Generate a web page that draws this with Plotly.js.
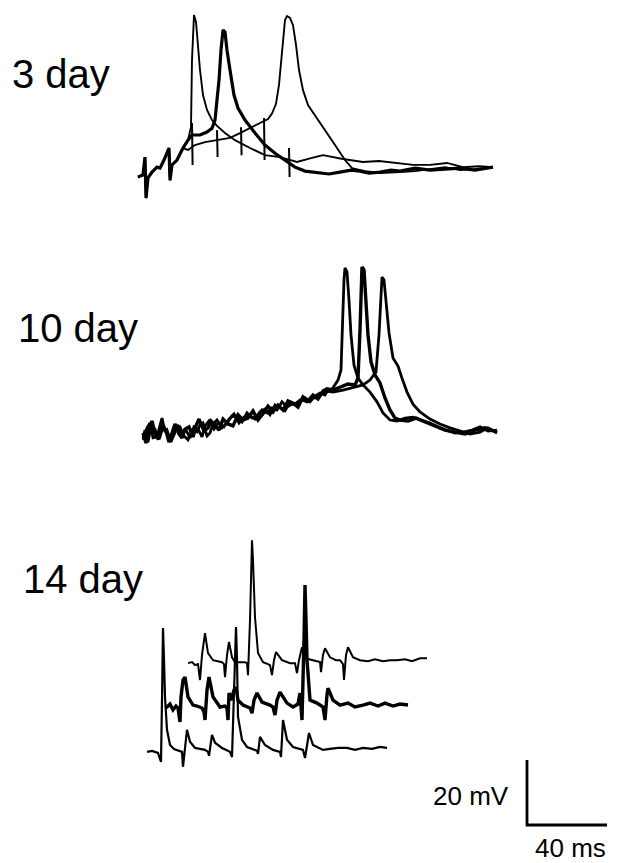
<!DOCTYPE html>
<html>
<head>
<meta charset="utf-8">
<script src="https://cdn.plot.ly/plotly-3.0.1.min.js"></script>
<style>html,body{margin:0;padding:0;background:#fff;}#chart{width:620px;height:863px;}</style>
</head>
<body>
<div id="chart"></div>
<script>
// ---------- DATA (time in ms from trace start, voltage in mV from baseline) ----------
const panelLabels = ["3 day", "10 day", "14 day"];
const scaleBarMs = 40;
const scaleBarMv = 20;
const scaleLabels = ["20 mV", "40 ms"];

// 3 day: common onset with stimulus artefacts
const d3_start_t = [-2.5, 0, 1, 1.5, 2.5, 4.5, 7, 8.5, 10.5, 13, 13.5, 14.5, 17, 20];
const d3_start_v = [-1.5, -0.9, 4.6, -8, -1.8, 0, 1.5, 1.2, 3.7, 7.4, -2.5, 2.2, 3.7, 7.4];
// 3 day, trace A (earliest spike)
const d3_A_t = [22.5, 24, 24.5, 25.5, 26.5, 27.5, 28.5, 30, 32, 34.5, 37, 41, 46, 53.5, 61, 68.5, 77, 84, 90, 100, 110, 118, 127, 135, 143.5, 152, 160, 168, 175];
const d3_A_v = [9.8, 13.8, 34.5, 48.3, 46.2, 37.5, 31.4, 23.7, 19.1, 16, 14.2, 12, 9.8, 7.4, 5.2, 4.6, 3.1, 4.3, 5.2, 4, 3.1, 3.4, 2.8, 2.2, 2.2, 2.8, 1.5, 1.8, 1.5];
// 3 day, trace B (thick, middle spike)
const d3_B_t = [22.5, 24.5, 28.5, 32, 34.5, 36, 37, 38, 39, 40, 41, 42, 43.5, 45.5, 47.5, 51, 56, 61, 66, 71, 76, 81, 88.5, 93, 98.5, 104, 108.5, 113, 118.5, 124, 128.5, 136, 143.5, 150, 158.5, 166, 175];
const d3_B_v = [9.8, 11.4, 11.4, 12.3, 13.5, 16, 22.2, 28.3, 37.5, 43.7, 43.1, 37.5, 31.4, 23.7, 19.7, 16, 12, 8.3, 5.8, 3.7, 1.5, 0.3, -0.3, -0.6, 0, 0.6, 0.3, -0.3, 0, 0.6, 0.3, 1.2, 0.6, 0.9, 1.2, 0.6, 1.5];
// 3 day, trace C (latest spike)
const d3_C_t = [22.5, 26, 31, 37, 43.5, 48.5, 53.5, 57, 60, 62.5, 64.5, 66.5, 68, 69.5, 71, 72, 73.5, 75, 76.5, 78, 80, 82.5, 86, 91, 96, 101, 104.5, 111, 118.5, 128.5, 136, 143.5, 151, 158.5, 166, 175];
const d3_C_v = [6.8, 8.3, 9.2, 9.8, 10.5, 12, 13.5, 14.5, 15.4, 16.3, 18, 21, 26.8, 36, 46.8, 48, 47.4, 45.2, 39.1, 31.4, 25.2, 20.6, 17.5, 12.9, 8.3, 3.7, 1.2, 0.3, -0.3, 0, 0.3, 0.9, 1.5, 0.6, 0.9, 1.5];
// 3 day stimulus artefacts (time, top, bottom)
const d3_art_t = [24.5, 37, 49, 60.5, 73];
const d3_art_top = [15.1, 12.9, 13.8, 16.6, 7.4];
const d3_art_bot = [2.2, 4.6, 5.2, 3.7, -1.5];

// 10 day: noisy ramps then spikes
const d10_1_t = [0, 2, 3.5, 5, 7, 8.5, 9.5, 11, 12, 13.5, 15, 17, 18.5, 20.5, 22.5, 24.5, 27, 28.5, 30, 32, 33.5, 35, 37, 39.5, 42, 44.5, 47, 49.5, 52, 54.5, 57, 59.5, 62, 64.5, 67, 69.5, 72, 74.5, 77, 79.5, 82, 84.5, 87, 89.5, 92,
  95, 97.5, 99, 99.5, 100.5, 101, 102, 103, 104, 105.5, 107.5, 110, 113.5, 117, 120, 123.5, 127, 131, 135, 139, 143.5, 148.5, 152, 156, 160, 164.5, 168.5, 172.5, 177];
const d10_1_v = [-1.5, 2.2, 3.7, -0.9, -0.6, 3.1, 5.2, 0.9, 1.5, -1.5, -0.6, 2.2, 2.5, -0.3, -1.5, 1.5, 0.9, 3.1, 3.7, -0.3, 0.6, 3.4, 4.6, 2.2, 3.7, 5.8, 5.5, 4, 6.8, 5.2, 5.5, 7.7, 6.8, 8.3, 7.7, 10.2, 8.6, 9.5, 9.2, 10.8, 10.2, 11.4, 11.4, 12.6, 13.2,
  14.5, 16.9, 20, 32.3, 47.7, 51.4, 50.2, 41.5, 30.8, 21.5, 17.5, 15.4, 13.2, 10.2, 6.8, 4.6, 4.3, 5.2, 5.5, 4.6, 3.7, 2.2, 1.5, 0.6, 0.9, 1.5, 2.5, 1.2, 1.5];
const d10_2_t = [0, 1.5, 3, 4.5, 6, 8, 10, 11.5, 13, 14.5, 16, 18, 19.5, 21, 23, 25, 26.5, 28, 30.5, 32.5, 34, 36, 38, 40, 42.5, 45, 47.5, 50, 52.5, 55, 57.5, 60, 62.5, 65, 67.5, 70, 72.5, 75, 77.5, 80, 82.5, 85, 87.5, 90, 92,
  95, 98.5, 102.5, 106, 107.5, 108.5, 109, 109.5, 110.5, 111.5, 112.5, 114, 116, 118.5, 121, 123.5, 126, 128.5, 132.5, 136.5, 141, 146, 151, 156, 161, 166, 171, 177];
const d10_2_v = [0.6, -2.5, 1.8, 4.3, 0.3, -1.2, 2.8, 1.2, -2.2, 0.9, 3.4, 0.3, -0.9, 1.8, 2.5, -0.6, 2.8, 4.9, 1.2, 2.2, 4.3, 3.1, 1.5, 4.9, 3.4, 2.8, 6.2, 4.6, 5.2, 7.4, 4.6, 6.5, 8.9, 7.1, 9.2, 7.7, 10.5, 9.8, 8.6, 11.7, 10.5, 12.3, 11.1, 13.5, 14.2,
  13.8, 14.8, 15.7, 15.4, 17.5, 32.3, 46.2, 51.7, 50.8, 41.5, 30.8, 22.5, 18.5, 16, 11.4, 7.7, 5.2, 4.6, 4.3, 5.2, 4, 2.8, 1.5, 0.9, 0.3, 1.5, 2.2, 0.9];
const d10_3_t = [0, 1, 2.5, 4, 6, 7.5, 9, 10.5, 12.5, 14, 16, 17.5, 19, 21.5, 23.5, 25.5, 27.5, 29.5, 31, 33, 35.5, 37.5, 40.5, 43, 45.5, 48, 50.5, 53, 56, 58.5, 61, 63.5, 66, 68.5, 71, 73.5, 76, 78.5, 81, 83.5, 86, 88.5, 91, 92,
  95, 100, 105, 110, 113.5, 116.5, 118, 119, 119.5, 120.5, 121.5, 123, 125, 127.5, 129.5, 132, 135, 138.5, 143.5, 148.5, 153.5, 158.5, 163.5, 168.5, 172.5, 177];
const d10_3_v = [-0.9, 1.5, -2.2, 2.8, 1.8, -1.5, 3.7, 2.5, 0.3, -2.2, 1.2, 3.1, 0.6, 1.5, -0.9, 2.5, 1.8, -0.6, 2.8, 4.3, 1.8, 3.7, 2.5, 4.9, 6.5, 3.7, 5.5, 6.2, 4.9, 7.1, 8, 6.2, 9.2, 8.3, 7.4, 10.2, 9.5, 10.8, 11.4, 10.2, 12, 12.9, 12.3, 13.5,
  13.2, 13.8, 14.5, 15.4, 16.9, 19.4, 30.8, 44.6, 48.6, 47.7, 41.5, 31.4, 23.7, 21.2, 17.5, 13.2, 9.5, 7.1, 4.9, 3.4, 2.2, 1.2, 0.3, 0.9, 2.2, 0.6];

// 14 day: three stacked traces
const d14_bot_t = [0, 2.5, 5.5, 7, 7.5, 8, 8.5, 9, 10, 11.5, 13.5, 15, 17.5, 18, 19, 20, 21.5, 24, 26.5, 29, 30.5, 31, 32.5, 34, 37.5, 41.5, 42.5, 43.5, 44.5, 45, 45.5, 47.5, 50, 54, 55, 55.5, 56.5, 59, 63, 66.5, 67, 68, 70, 73, 78, 79, 81, 83, 88, 91.5, 95.5, 100, 104, 108, 112.5, 116.5, 120];
const d14_bot_v = [-0.6, -0.3, -0.9, -3.7, 15.4, 37.5, 27.7, 16.3, 6.2, 1.5, 0.3, 0, -0.6, -5.2, 1.5, 6.2, 2.5, 0.6, 0.3, 0, -0.6, -1.8, 4.6, 2.2, 0.6, -0.6, -2.2, 15.4, 37.8, 27.7, 10.2, 3.1, 0.9, 0, -0.3, -1.2, 4, 1.5, 0, -0.6, -2.2, 9.2, 3.1, 0.9, 0, -2.5, 5.2, 1.5, 0, 0.3, 0.6, 0.6, 0, 0.6, 0.3, 0.9, 0.6];
const d14_mid_t = [0, 1, 2.5, 4, 5.5, 6.5, 7.5, 8, 9, 10, 11.5, 14, 16, 18.5, 19.5, 20, 21, 22, 24, 27.5, 30, 31, 31.5, 32, 33, 34.5, 35.5, 36.5, 39, 41, 42.5, 43.5, 44.5, 46, 48.5, 52.5, 54, 55, 56, 57.5, 59, 61, 64, 66.5, 67.5, 68.5, 69.5, 70, 70.5, 71, 72.5, 76, 79, 80, 81, 81.5, 84, 87.5, 91.5, 95, 99, 102.5, 106.5, 110, 114, 117.5, 121.5];
const d14_mid_v = [-0.6, -0.3, 0.6, -1.2, 0, -0.6, -4.9, 2.8, 8, 8.9, 2.8, 0.3, 0, -0.6, -1.8, -4.3, 4.9, 8.9, 2.8, -0.3, 0, -0.6, -4.3, 4, 1.8, 4.9, 5.8, 1.8, 0.3, -0.3, -0.6, -2.2, 1.8, 4, 1.2, 0.3, -0.3, -2.8, 1.8, 4.3, 2.8, 0.9, -0.3, 0.6, 4, -4.3, 20.3, 37.2, 26.5, 14.2, 1.8, 0.9, -0.3, -4.3, 3.4, 5.5, 1.8, 0.3, 0.9, -0.3, 0.3, 0.9, 0, 0.9, 0, 0.6, 0.3];
const d14_top_t = [0, 2, 3.5, 5, 6, 7, 8.5, 10, 12.5, 15, 17, 18, 18.5, 19.5, 20.5, 22, 23.5, 26, 28.5, 29.5, 30, 31, 32, 32.5, 33.5, 35, 37.5, 40, 41, 42, 43, 44, 47, 51, 53.5, 54.5, 55.5, 57, 58.5, 62.5, 66, 66.5, 67.5, 68.5, 71, 74, 76, 77.5, 78, 79, 80, 82.5, 86, 90, 93.5, 97.5, 101, 104.5, 108.5, 112, 116, 119.5];
const d14_top_v = [-0.3, 0, -0.9, -0.6, -5.5, 2.2, 8.9, 2.8, 0.6, 0.3, 0, -0.6, -4.6, 2.2, 6.2, 1.5, 0, 0, 0, -0.3, -4, 12.9, 37.5, 31.4, 13.8, 2.8, 0, -0.6, -0.9, -4, 0.6, 3.1, 0.6, -0.3, -0.3, -3.4, 0.6, 4.6, 1.2, 0.6, 0, -3.1, 2.2, 4.3, 1.5, 0.6, 0.6, -0.6, -5.5, 2.2, 4.6, 1.5, 0.6, 0.3, 0.9, 0.3, 0.6, 0.6, 0.9, 0.3, 1.2, 1.2];

// ---------- LAYOUT / STYLE ----------
const W = 620, H = 863;
const pxPerMs = 2, pxPerMv = 3.25;
const xMax = W / pxPerMs, yMax = H / pxPerMv;
const place = {
  d3: {t0: 71.5, v0: 212.6},
  d10: {t0: 71.5, v0: 131.7},
  d14bot: {t0: 73.5, v0: 34.8},
  d14mid: {t0: 82.5, v0: 48.3},
  d14top: {t0: 94, v0: 61.8},
  bar: {t0: 263.5, v0: 11.7}
};

function shift(arr, d) { return arr.map(a => (a === null ? null : a + d)); }
function trace(t, v, p, width) {
  return {
    type: 'scatter', mode: 'lines', hoverinfo: 'skip', connectgaps: false,
    x: shift(t, p.t0), y: shift(v, p.v0),
    line: {color: '#000', width: width, shape: 'linear'}
  };
}
function joined(t1, v1, t2, v2) { return [t1.concat(t2), v1.concat(v2)]; }

const traces = [];
let a = joined(d3_start_t, d3_start_v, d3_A_t, d3_A_v);
traces.push(trace(a[0], a[1], place.d3, 1.9));
a = joined(d3_start_t, d3_start_v, d3_C_t, d3_C_v);
traces.push(trace(a[0], a[1], place.d3, 1.9));
a = joined(d3_start_t, d3_start_v, d3_B_t, d3_B_v);
traces.push(trace(a[0], a[1], place.d3, 3.2));
// artefacts
const artT = [], artV = [];
d3_art_t.forEach((t, i) => { artT.push(t, t + 0.3, null); artV.push(d3_art_top[i], d3_art_bot[i], null); });
traces.push(trace(artT, artV, place.d3, 2));

traces.push(trace(d10_1_t, d10_1_v, place.d10, 2.8));
traces.push(trace(d10_3_t, d10_3_v, place.d10, 2.8));
traces.push(trace(d10_2_t, d10_2_v, place.d10, 3.4));

traces.push(trace(d14_bot_t, d14_bot_v, place.d14bot, 2.2));
traces.push(trace(d14_mid_t, d14_mid_v, place.d14mid, 3.4));
traces.push(trace(d14_top_t, d14_top_v, place.d14top, 2));

// scale bar
traces.push(trace([0, 0, scaleBarMs], [scaleBarMv, 0, 0], place.bar, 2.8));

const fx = x => x / W, fy = y => (H - y) / H;
const lab = (text, x, y, size) => ({
  text: text, x: fx(x), y: fy(y), xref: 'paper', yref: 'paper',
  xanchor: 'left', yanchor: 'middle', showarrow: false,
  font: {family: 'Liberation Sans, Arial, sans-serif', size: size, color: '#000'}
});

const layout = {
  width: W, height: H,
  margin: {l: 0, r: 0, t: 0, b: 0},
  paper_bgcolor: '#fff', plot_bgcolor: '#fff',
  showlegend: false,
  xaxis: {range: [0, xMax], visible: false, fixedrange: true},
  yaxis: {range: [0, yMax], visible: false, fixedrange: true},
  annotations: [
    lab(panelLabels[0], 10, 74, 40),
    lab(panelLabels[1], 16, 328, 40),
    lab(panelLabels[2], 21, 579, 40),
    lab(scaleLabels[0], 431, 796, 26),
    lab(scaleLabels[1], 533, 848, 26)
  ]
};

Plotly.newPlot('chart', traces, layout, {displayModeBar: false, staticPlot: true});
</script>
</body>
</html>
